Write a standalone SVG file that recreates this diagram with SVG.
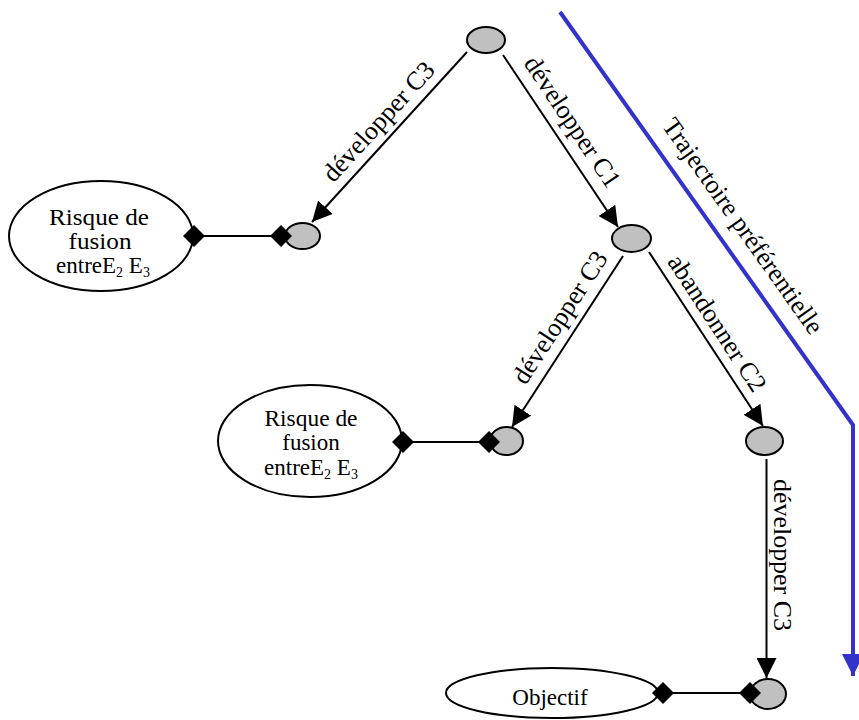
<svg xmlns="http://www.w3.org/2000/svg" width="859" height="720" viewBox="0 0 859 720">
<style>
.state{fill:#c0c0c0;stroke:#000;stroke-width:2}
.oval{fill:#fff;stroke:#000;stroke-width:2}
.edge{stroke:#000;stroke-width:2;fill:none}
.dia{fill:#000}
.lbl{font-family:"Liberation Serif","Times New Roman",serif;font-size:26px;fill:#000}
.nlbl{font-family:"Liberation Serif","Times New Roman",serif;font-size:23px;fill:#000;text-anchor:middle}
.blue{stroke:#3333cc;stroke-width:4;fill:none}
</style>
<defs>
<marker id="arr" markerUnits="userSpaceOnUse" markerWidth="20" markerHeight="20" viewBox="0 0 20 20" refX="20" refY="10" orient="auto">
<path d="M0,0 L20,10 L0,20 z" fill="#000"/>
</marker>
<marker id="barr" markerUnits="userSpaceOnUse" markerWidth="22" markerHeight="22" viewBox="0 0 22 22" refX="22" refY="11" orient="auto">
<path d="M0,0 L22,11 L0,22 z" fill="#3333cc"/>
</marker>
</defs>
<rect width="859" height="720" fill="#fff"/>

<g id="connectors">
<line class="edge" x1="467" y1="52" x2="312" y2="222" marker-end="url(#arr)"/>
<line class="edge" x1="503" y1="55" x2="618" y2="227" marker-end="url(#arr)"/>
<line class="edge" x1="623" y1="256" x2="512" y2="427" marker-end="url(#arr)"/>
<line class="edge" x1="649" y1="252" x2="763" y2="426" marker-end="url(#arr)"/>
<line class="edge" x1="766.5" y1="459" x2="766.5" y2="678" marker-end="url(#arr)"/>
<line class="edge" x1="194" y1="236" x2="281" y2="236"/>
<line class="edge" x1="403" y1="442" x2="489" y2="442"/>
<line class="edge" x1="663" y1="693" x2="750" y2="693"/>
<polyline class="blue" points="560,12 853,425 853,676" marker-end="url(#barr)"/>
<text class="lbl" text-anchor="middle" transform="translate(384.9,127.3) rotate(-47.6)">développer C3</text>
<text class="lbl" text-anchor="middle" transform="translate(565.3,126.5) rotate(56.2)">développer C1</text>
<text class="lbl" text-anchor="middle" transform="translate(567,322.1) rotate(-57)">développer C3</text>
<text class="lbl" text-anchor="middle" transform="translate(710,327.8) rotate(56.8)">abandonner C2</text>
<text class="lbl" text-anchor="middle" textLength="152" lengthAdjust="spacingAndGlyphs" transform="translate(774,555) rotate(90)">développer C3</text>
<text class="lbl" text-anchor="middle" transform="translate(736,231) rotate(54.6)">Trajectoire préférentielle</text>
</g>

<g id="s0"><ellipse class="state" cx="486" cy="40" rx="19" ry="13"/></g>
<g id="s1"><ellipse class="state" cx="302.5" cy="236" rx="17.5" ry="13"/><polygon class="dia" points="270,236 281,225 292,236 281,247"/></g>
<g id="s2"><ellipse class="state" cx="631.5" cy="238.5" rx="19.5" ry="13.5"/></g>
<g id="s3"><ellipse class="state" cx="506.5" cy="441" rx="16.5" ry="14"/><polygon class="dia" points="478,442 489,431 500,442 489,453"/></g>
<g id="s4"><ellipse class="state" cx="764.5" cy="441" rx="18.5" ry="14"/></g>
<g id="s5"><ellipse class="state" cx="768" cy="694" rx="18" ry="15"/><polygon class="dia" points="739,693 750,682 761,693 750,704"/></g>

<g id="risk1">
<ellipse class="oval" cx="101" cy="236" rx="92" ry="55"/>
<polygon class="dia" points="183,236 194,225 205,236 194,247"/>
<text class="nlbl" x="99" y="225" textLength="100" lengthAdjust="spacingAndGlyphs">Risque de</text>
<text class="nlbl" x="100" y="249" textLength="63" lengthAdjust="spacingAndGlyphs">fusion</text>
<text class="nlbl" x="103" y="273">entreE<tspan font-size="14" dy="4">2</tspan><tspan dy="-4"> E</tspan><tspan font-size="14" dy="4">3</tspan></text>
</g>
<g id="risk2">
<ellipse class="oval" cx="310" cy="441" rx="92" ry="56"/>
<polygon class="dia" points="392,442 403,431 414,442 403,453"/>
<text class="nlbl" x="311" y="426" textLength="93" lengthAdjust="spacingAndGlyphs">Risque de</text>
<text class="nlbl" x="311" y="450">fusion</text>
<text class="nlbl" x="311" y="475">entreE<tspan font-size="14" dy="4">2</tspan><tspan dy="-4"> E</tspan><tspan font-size="14" dy="4">3</tspan></text>
</g>
<g id="goal">
<ellipse class="oval" cx="552" cy="693" rx="106" ry="25"/>
<polygon class="dia" points="652,693 663,682 674,693 663,704"/>
<text class="nlbl" x="550" y="705">Objectif</text>
</g>
</svg>
